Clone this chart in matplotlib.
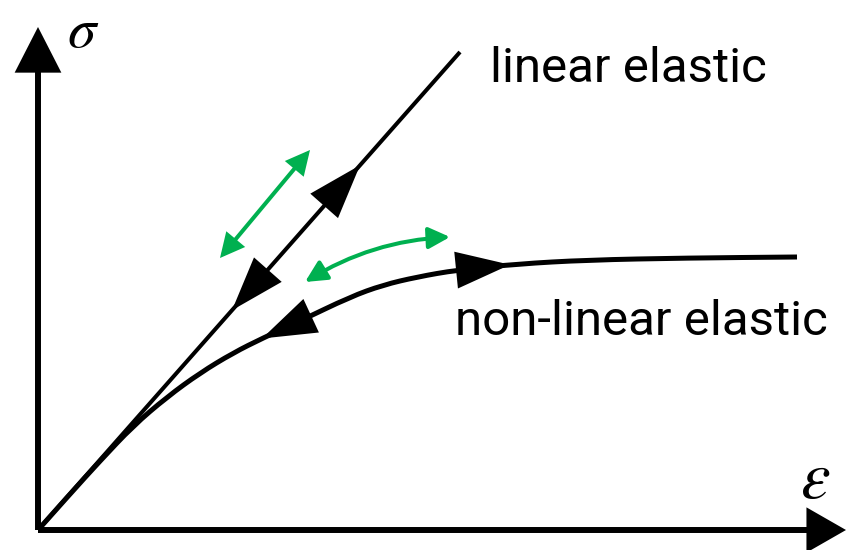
import numpy as np
import matplotlib
matplotlib.use("Agg")
import matplotlib.pyplot as plt
from matplotlib.patches import FancyArrowPatch, PathPatch
from matplotlib.path import Path

plt.rcParams["mathtext.fontset"] = "stix"

# ---- data (schematic stress-strain, arbitrary units) ----
linear_strain = [0, 422]
linear_stress = [0, 478]

nonlinear_strain = [0, 32, 62, 95, 129, 162, 195, 225, 262, 312, 345, 379, 419, 479, 549, 649, 759]
nonlinear_stress = [0, 36, 69, 104, 133, 157, 177, 192, 209, 233, 245, 253, 260, 266, 270, 272, 273]

label_linear = "linear elastic"
label_nonlinear = "non-linear elastic"
label_x = r"$\varepsilon$"
label_y = r"$\sigma$"

GREEN = "#00B050"

fig = plt.figure(figsize=(8.48, 5.5), dpi=100)
ax = fig.add_axes([0, 0, 1, 1])
ax.set_xlim(-38, 810)
ax.set_ylim(-20, 530)
ax.axis("off")

# ---- axes arrows ----
def arrow(p0, p1, style, lw, color, z=3):
    a = FancyArrowPatch(p0, p1, arrowstyle=style, mutation_scale=1, lw=lw,
                        color=color, shrinkA=0, shrinkB=0, zorder=z,
                        capstyle="butt", joinstyle="miter")
    ax.add_patch(a)
    return a

arrow((0, 0), (0, 503), "-|>,head_length=26,head_width=13.3", 4.3, "black")
arrow((0, 0), (808, 0), "-|>,head_length=22,head_width=12.6", 4.3, "black")

# ---- linear line ----
ax.plot(linear_strain, linear_stress, color="black", lw=2.9, solid_capstyle="butt", zorder=4)

# ---- non-linear curve (smooth quadratic path through midpoints) ----
xs = np.asarray(nonlinear_strain, float)
ys = np.asarray(nonlinear_stress, float)
verts = [(xs[0], ys[0])]
codes = [Path.MOVETO]
for i in range(1, len(xs) - 1):
    mx, my = (xs[i] + xs[i + 1]) / 2, (ys[i] + ys[i + 1]) / 2
    verts += [(xs[i], ys[i]), (mx, my)]
    codes += [Path.CURVE3, Path.CURVE3]
verts.append((xs[-1], ys[-1]))
codes.append(Path.LINETO)
ax.add_patch(PathPatch(Path(verts, codes), fill=False, lw=3.6, color="black",
                       capstyle="butt", zorder=4))

# ---- direction arrowheads ----
head = "-|>,head_length=39,head_width=13.3"
slope = linear_stress[1] / linear_strain[1]
def lin(x):
    return (x, slope * x)
def cur(x):
    return (x, float(np.interp(x, xs, ys)))

arrow(lin(322 - 36), lin(322), head, 0, "black", z=5)   # loading (up)
arrow(lin(194 + 36), lin(194), head, 0, "black", z=5)   # unloading (down)
arrow(cur(224 + 44), cur(224), head, 0, "black", z=5)   # curve unloading
arrow(cur(472 - 53), cur(472), head, 0, "black", z=5)   # curve loading

# ---- green reversible arrows ----
g = "<|-|>,head_length=13,head_width=6.5"
arrow((182, 272), (272, 380), g, 2.9, GREEN, z=6)
a = FancyArrowPatch((267, 248), (412, 293), arrowstyle=g, mutation_scale=1, lw=2.9,
                    color=GREEN, shrinkA=0, shrinkB=0, zorder=6,
                    connectionstyle="arc3,rad=-0.13")
ax.add_patch(a)

# ---- labels ----
tf = dict(family=["Roboto", "DejaVu Sans"], fontsize=35.5, color="black")
ax.text(452, 448, label_linear, ha="left", va="baseline", **tf)
ax.text(417, 195, label_nonlinear, ha="left", va="baseline", **tf)

ax.text(45, 499, label_y, ha="center", va="center", fontsize=41, color="black")
ax.text(777, 51, label_x, ha="center", va="center", fontsize=48, color="black")

fig.savefig("out.png", dpi=100)
